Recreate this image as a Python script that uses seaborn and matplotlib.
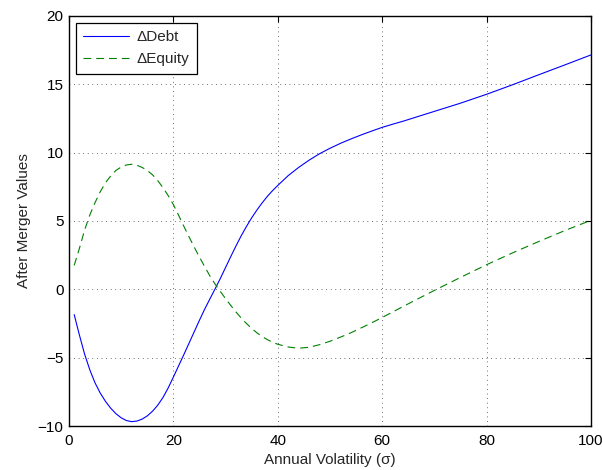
import matplotlib
matplotlib.use("Agg")
import matplotlib.pyplot as plt
import seaborn as sns
import pandas as pd

volatility = [1, 2, 3, 4, 5, 6, 7, 8, 9, 10, 11, 12, 13, 14, 15, 16, 17, 18, 19, 20,
              21, 22, 23, 24, 25, 26, 27, 28, 29, 30, 31, 32, 33, 34, 35, 36, 37, 38, 39, 40,
              42, 44, 46, 48, 50, 52, 54, 56, 58, 60, 62, 64, 66, 68, 70, 75, 80, 85, 90,
              95, 100]
delta_debt = [-1.85, -3.35, -4.75, -5.9, -6.85, -7.6, -8.2, -8.7, -9.1, -9.4, -9.6, -9.68,
              -9.64, -9.5, -9.26, -8.92, -8.48, -7.92, -7.22, -6.42, -5.6, -4.78, -3.94, -3.1,
              -2.26, -1.45, -0.7, 0.04, 0.8, 1.6, 2.4, 3.18, 3.92, 4.6, 5.23, 5.8, 6.32, 6.8,
              7.22, 7.6, 8.32, 8.92, 9.45, 9.92, 10.32, 10.68, 11.0, 11.3, 11.58, 11.85,
              12.08, 12.3, 12.54, 12.78, 13.02, 13.62, 14.27, 14.97, 15.7, 16.42, 17.15]
delta_equity = [1.75, 3.0, 4.35, 5.45, 6.35, 7.15, 7.8, 8.3, 8.7, 8.95, 9.1, 9.15, 9.08,
                8.92, 8.7, 8.38, 7.96, 7.44, 6.86, 6.2, 5.42, 4.62, 3.84, 3.08, 2.36, 1.66,
                0.98, 0.38, -0.16, -0.68, -1.18, -1.66, -2.1, -2.5, -2.86, -3.18, -3.45,
                -3.68, -3.87, -4.02, -4.22, -4.31, -4.24, -4.05, -3.8, -3.5, -3.18, -2.82,
                -2.45, -2.06, -1.66, -1.26, -0.86, -0.47, -0.08, 0.87, 1.8, 2.67, 3.5, 4.3,
                5.05]
series_labels = ["\u0394Debt", "\u0394Equity"]
x_ticks = [0, 20, 40, 60, 80, 100]
y_ticks = [-10, -5, 0, 5, 10, 15, 20]

df = pd.DataFrame({"vol": volatility, "debt": delta_debt, "equity": delta_equity})

sns.set_style("white")
plt.rcParams["font.family"] = ["Liberation Sans", "DejaVu Sans"]
plt.rcParams["axes.unicode_minus"] = True

fig = plt.figure(figsize=(6.03, 4.70), dpi=100)
ax = fig.add_axes([0.1144, 0.0936, 0.8656, 0.8724])

sns.lineplot(data=df, x="vol", y="debt", ax=ax, color=(0, 0, 1), linewidth=0.8,
             label=series_labels[0])
sns.lineplot(data=df, x="vol", y="equity", ax=ax, color=(0, 0.5, 0), linewidth=0.8,
             label=series_labels[1], dashes=False)
ax.lines[1].set_dashes((7, 4.5))

ax.set_xlim(0, 100)
ax.set_ylim(-10, 20)
ax.set_xticks(x_ticks)
ax.set_yticks(y_ticks)
ax.grid(True, color="0.25", linestyle=(0, (1, 4.5)), linewidth=0.6)
ax.tick_params(direction="in", top=True, right=True, length=4, width=0.8,
               labelsize=11, colors="black")
ax.tick_params(axis="x", pad=6)
ax.tick_params(axis="y", pad=4)
for s in ax.spines.values():
    s.set_color("black")
    s.set_linewidth(1.0)

ax.set_xlabel("Annual Volatility (\u03c3)", fontsize=11, labelpad=3)
ax.set_ylabel("After Merger Values", fontsize=11, labelpad=5)

leg = ax.legend(loc="upper left", frameon=True, fancybox=False, fontsize=11,
                edgecolor="black", framealpha=1, borderpad=0.5, handlelength=3.0,
                labelspacing=0.5, borderaxespad=0.45, handletextpad=0.5)
leg.get_frame().set_linewidth(0.9)

fig.savefig("out.png", dpi=100)
